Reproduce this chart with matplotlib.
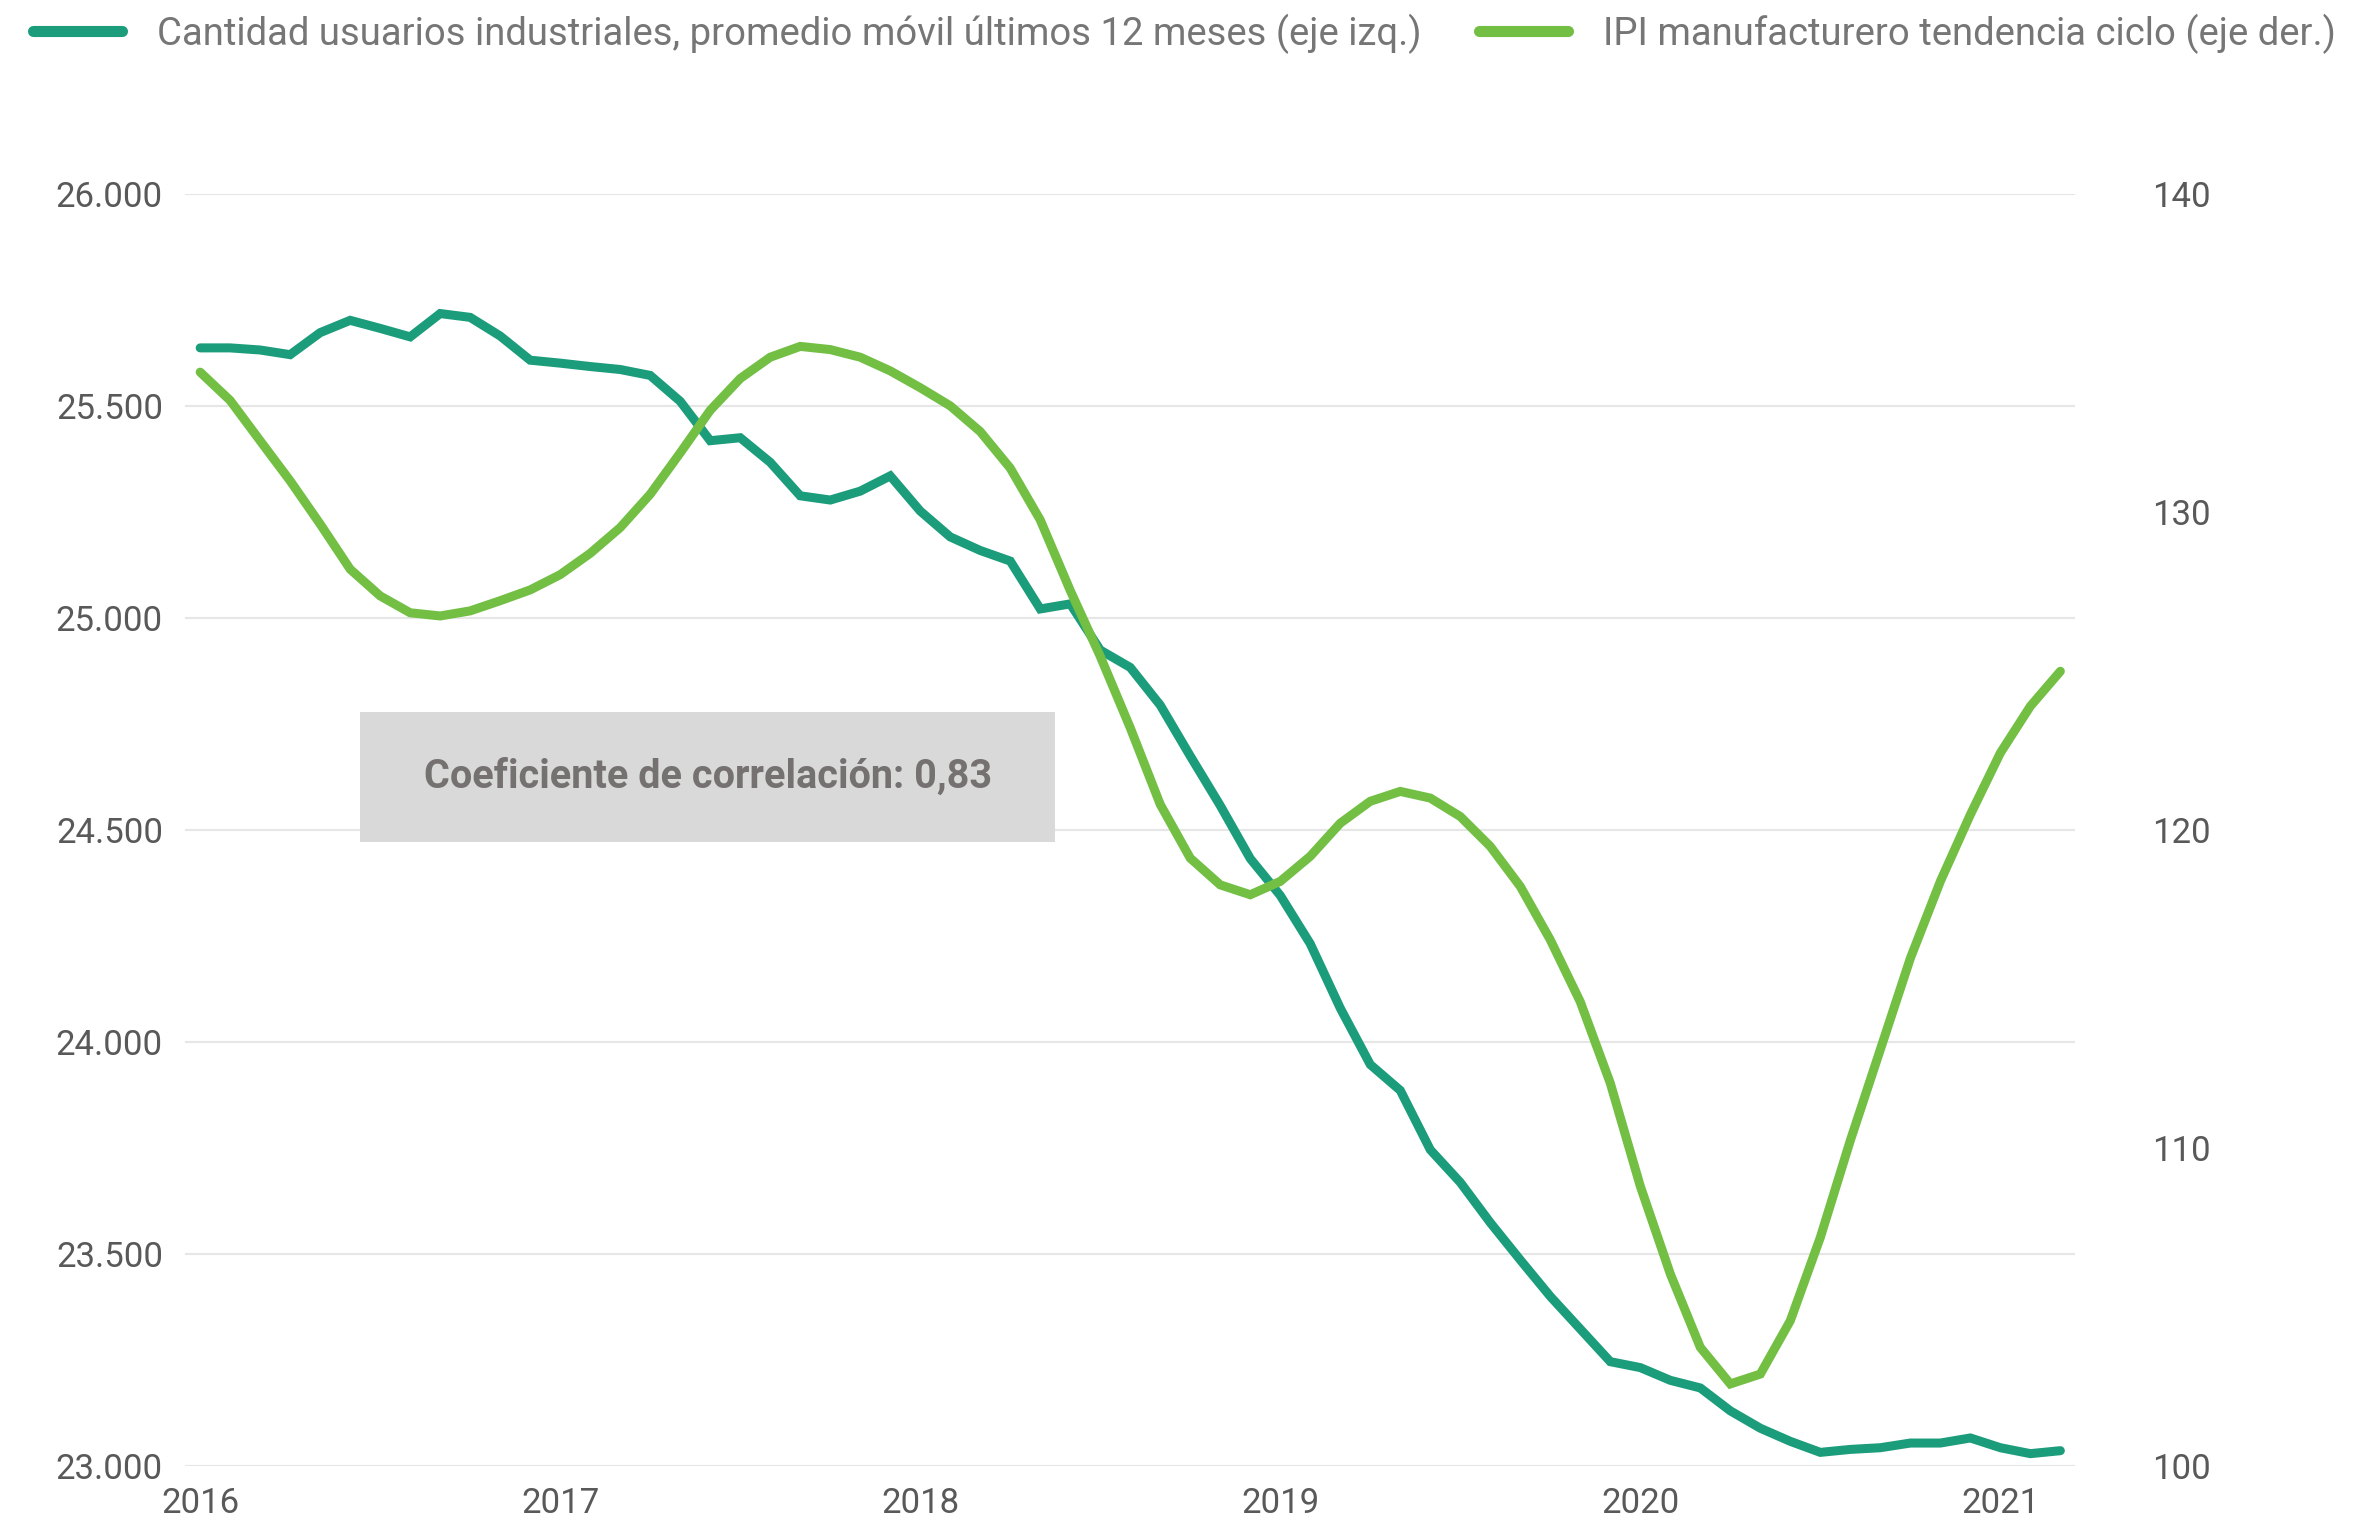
import matplotlib
matplotlib.use("Agg")
import matplotlib.pyplot as plt
from matplotlib.patches import Rectangle
from matplotlib.lines import Line2D
from matplotlib.ticker import FuncFormatter, FixedLocator

# ---- data (monthly, Jan 2016 - Mar 2021) ----
usuarios = [
    25638, 25638, 25633, 25622, 25674, 25703, 25684, 25664, 25719, 25710,
    25666, 25609, 25602, 25594, 25587, 25573, 25512, 25419, 25426, 25368,
    25289, 25279, 25300, 25336, 25253, 25192, 25160, 25135, 25022, 25034,
    24925, 24884, 24795, 24675, 24558, 24433, 24346, 24232, 24080, 23947,
    23886, 23746, 23669, 23574, 23486, 23400, 23323, 23246, 23232, 23202,
    23184, 23130, 23089, 23058, 23032, 23039, 23043, 23054, 23054, 23066,
    23043, 23029, 23036,
]
ipi = [
    134.41, 133.52, 132.25, 130.99, 129.63, 128.21, 127.37, 126.84, 126.74, 126.90,
    127.22, 127.56, 128.04, 128.71, 129.52, 130.57, 131.87, 133.21, 134.21, 134.88,
    135.22, 135.12, 134.88, 134.45, 133.92, 133.35, 132.54, 131.39, 129.76, 127.54,
    125.47, 123.22, 120.81, 119.12, 118.28, 117.97, 118.39, 119.18, 120.22, 120.91,
    121.22, 121.01, 120.43, 119.49, 118.23, 116.55, 114.60, 112.04, 108.80, 106.04,
    103.73, 102.58, 102.89, 104.57, 107.19, 110.24, 113.10, 115.97, 118.39, 120.49,
    122.43, 123.90, 125.00,
]
year_labels = ["2016", "2017", "2018", "2019", "2020", "2021"]
year_positions = [0, 12, 24, 36, 48, 60]
left_ticks = [23000, 23500, 24000, 24500, 25000, 25500, 26000]
right_ticks = [100, 110, 120, 130, 140]
label_usuarios = "Cantidad usuarios industriales, promedio móvil últimos 12 meses (eje izq.)"
label_ipi = "IPI manufacturero tendencia ciclo (eje der.)"
nota = "Coeficiente de correlación: 0,83"

TEAL = "#1b9c7b"
GREEN = "#72bf44"
TICK_C = "#595959"
LEG_C = "#767676"

plt.rcParams["font.family"] = ["Roboto", "DejaVu Sans"]

fig = plt.figure(figsize=(23.8, 15.24), dpi=100)
ax = fig.add_axes([0.0778, 0.0381, 0.7942, 0.8343])
ax2 = ax.twinx()

x = list(range(len(usuarios)))
ax.plot(x, usuarios, color=TEAL, lw=6.5, solid_joinstyle="miter", solid_capstyle="round", zorder=4)
ax2.plot(x, ipi, color=GREEN, lw=6.5, solid_joinstyle="miter", solid_capstyle="round", zorder=4)

ax.set_xlim(-0.5, len(usuarios) - 0.5)
ax.set_ylim(23000, 26000)
ax2.set_ylim(100, 140)

ax.yaxis.set_major_locator(FixedLocator(left_ticks))
ax2.yaxis.set_major_locator(FixedLocator(right_ticks))
ax.yaxis.set_major_formatter(FuncFormatter(lambda v, p: f"{int(v):,}".replace(",", ".")))
ax2.yaxis.set_major_formatter(FuncFormatter(lambda v, p: f"{int(v)}"))
ax.set_xticks(year_positions)
ax.set_xticklabels(year_labels)

ax.grid(axis="y", color="#e6e6e6", lw=1.5, zorder=0)
ax.set_axisbelow(True)
for a in (ax, ax2):
    for s in a.spines.values():
        s.set_visible(False)

ax.tick_params(axis="y", length=0, pad=16, labelsize=25, labelcolor=TICK_C)
ax2.tick_params(axis="y", length=0, pad=55, labelsize=25, labelcolor=TICK_C)
ax.tick_params(axis="x", length=0, pad=15, labelsize=25, labelcolor=TICK_C)
for lbl in ax2.get_yticklabels():
    lbl.set_horizontalalignment("left")

# annotation box
ax.add_patch(Rectangle((0.0925, 0.4904), 0.3678, 0.1026, transform=ax.transAxes,
                       facecolor="#d9d9d9", edgecolor="none", zorder=3))
ax.text(0.2764, 0.5417, nota, transform=ax.transAxes, ha="center", va="center",
        fontsize=28.5, fontweight="bold", color="#757171", zorder=5)

handles = [Line2D([], [], color=TEAL, lw=8, solid_capstyle="round"),
           Line2D([], [], color=GREEN, lw=8, solid_capstyle="round")]
leg = fig.legend(handles, [label_usuarios, label_ipi], loc="center", ncol=2,
                 bbox_to_anchor=(0.4975, 0.978), frameon=False, fontsize=27.5,
                 handlelength=2.35, handletextpad=0.9, columnspacing=1.5,
                 borderaxespad=0, borderpad=0)
for t in leg.get_texts():
    t.set_color(LEG_C)

fig.savefig("out.png", dpi=100, facecolor="white")
